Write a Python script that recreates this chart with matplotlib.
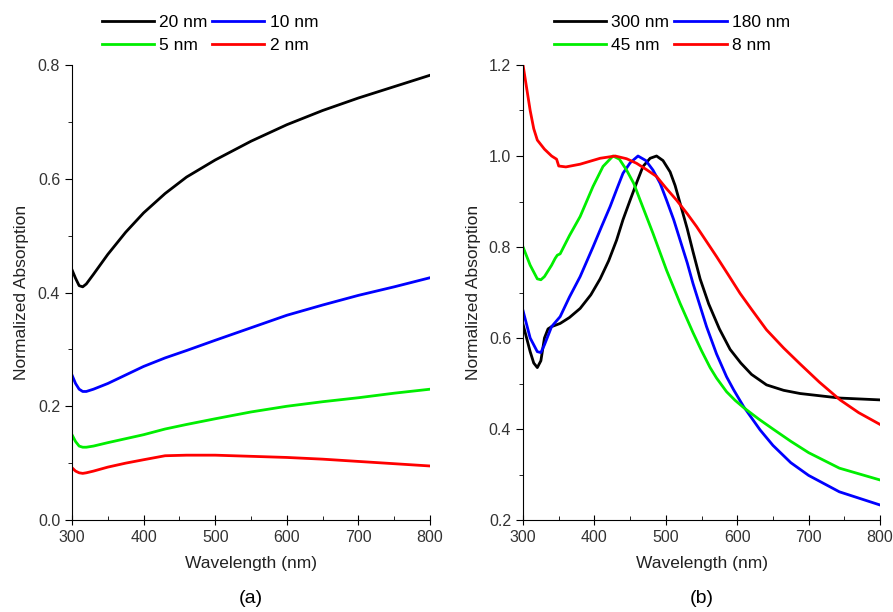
import numpy as np
import matplotlib
matplotlib.use('Agg')
import matplotlib.pyplot as plt
from matplotlib.ticker import MultipleLocator, FormatStrFormatter

plt.rcParams['font.family'] = ['Liberation Sans', 'DejaVu Sans']

# (a) thickness series
wl_a = [300, 305, 310, 315, 320, 330, 350, 375, 400, 430, 460, 500, 550, 600, 650, 700, 750, 800]
a_20 = [0.44, 0.425, 0.412, 0.41, 0.415, 0.432, 0.467, 0.506, 0.54, 0.574, 0.603, 0.633, 0.666, 0.695, 0.72, 0.742, 0.762, 0.782]
a_10 = [0.255, 0.24, 0.23, 0.226, 0.226, 0.23, 0.24, 0.255, 0.27, 0.285, 0.298, 0.316, 0.338, 0.36, 0.378, 0.395, 0.41, 0.426]
a_5 = [0.15, 0.138, 0.13, 0.128, 0.128, 0.13, 0.136, 0.143, 0.15, 0.16, 0.168, 0.178, 0.19, 0.2, 0.208, 0.215, 0.223, 0.23]
a_2 = [0.092, 0.086, 0.083, 0.082, 0.083, 0.086, 0.093, 0.1, 0.106, 0.113, 0.114, 0.114, 0.112, 0.11, 0.107, 0.103, 0.099, 0.095]

# (b) thickness series, each with its own wavelength samples
wl_300 = [300, 305, 310, 315, 320, 325, 330, 335, 340, 352, 365, 380, 395, 408, 420, 431, 440, 450, 460, 468, 478,
          487, 496, 506, 513, 520, 530, 538, 548, 560, 575, 590, 605, 620, 641, 665, 688, 744, 800]
b_300 = [0.63, 0.60, 0.57, 0.545, 0.535, 0.55, 0.60, 0.62, 0.625, 0.632, 0.645, 0.665, 0.695, 0.73, 0.77, 0.815,
         0.86, 0.903, 0.945, 0.977, 0.995, 1.0, 0.99, 0.965, 0.935, 0.896, 0.84, 0.79, 0.73, 0.675, 0.62, 0.575,
         0.545, 0.52, 0.497, 0.485, 0.478, 0.468, 0.464]
wl_180 = [300, 310, 320, 325, 330, 340, 352, 365, 380, 398, 410, 422, 432, 440, 450, 461, 472, 482, 492, 501, 511,
          520, 530, 538, 548, 557, 571, 585, 595, 609, 632, 650, 675, 700, 743, 800]
b_180 = [0.66, 0.60, 0.57, 0.568, 0.585, 0.625, 0.647, 0.69, 0.735, 0.80, 0.845, 0.889, 0.93, 0.962, 0.985, 1.0,
         0.99, 0.969, 0.94, 0.903, 0.86, 0.815, 0.765, 0.72, 0.67, 0.625, 0.565, 0.515, 0.486, 0.449, 0.398, 0.364,
         0.326, 0.298, 0.262, 0.233]
wl_45 = [300, 310, 320, 325, 330, 340, 345, 348, 352, 365, 380, 398, 412, 426, 435, 445, 455, 464, 482, 501, 520,
         538, 550, 562, 571, 585, 597, 609, 630, 650, 675, 700, 743, 800]
b_45 = [0.80, 0.76, 0.73, 0.728, 0.735, 0.76, 0.775, 0.782, 0.785, 0.825, 0.867, 0.933, 0.977, 1.0, 0.993, 0.969,
        0.94, 0.903, 0.83, 0.749, 0.676, 0.612, 0.572, 0.535, 0.512, 0.482, 0.463, 0.447, 0.422, 0.4, 0.373, 0.348,
        0.314, 0.288]
wl_8 = [300, 305, 310, 315, 320, 330, 340, 347, 350, 360, 380, 408, 429, 445, 459, 473, 487, 500, 515, 530, 543,
        557, 571, 587, 604, 620, 641, 665, 688, 715, 744, 770, 800]
b_8 = [1.2, 1.15, 1.1, 1.06, 1.035, 1.015, 1.0, 0.993, 0.978, 0.976, 0.982, 0.995, 1.0, 0.994, 0.984, 0.97, 0.955,
       0.93, 0.903, 0.873, 0.845, 0.812, 0.779, 0.74, 0.698, 0.663, 0.618, 0.578, 0.543, 0.503, 0.464, 0.436, 0.41]

labels_a = ['20 nm', '10 nm', '5 nm', '2 nm']
labels_b = ['300 nm', '180 nm', '45 nm', '8 nm']
colors = ['black', '#0000ff', '#00ee00', '#ff0000']

fig = plt.figure(figsize=(8.93, 6.12), dpi=100)
ax1 = fig.add_axes([0.0806, 0.1503, 0.401, 0.7435])
ax2 = fig.add_axes([0.5857, 0.1503, 0.3998, 0.7435])


def style(ax, ylo, yhi):
    ax.set_xlim(300, 800)
    ax.set_ylim(ylo, yhi)
    ax.spines['top'].set_visible(False)
    ax.spines['right'].set_visible(False)
    ax.xaxis.set_major_locator(MultipleLocator(100))
    ax.xaxis.set_minor_locator(MultipleLocator(50))
    ax.yaxis.set_major_locator(MultipleLocator(0.2))
    ax.yaxis.set_minor_locator(MultipleLocator(0.1))
    ax.tick_params(axis='x', which='major', direction='inout', length=7, labelsize=11.5, labelcolor='#333333')
    ax.tick_params(axis='x', which='minor', direction='in', length=3)
    ax.tick_params(axis='y', which='major', direction='out', length=5, labelsize=11.5, labelcolor='#333333')
    ax.tick_params(axis='y', which='minor', direction='out', length=3)
    ax.set_xlabel('Wavelength (nm)', fontsize=12.5, color='#222222', labelpad=8)
    ax.set_ylabel('Normalized Absorption', fontsize=12.5, color='#222222', labelpad=6)
    ax.yaxis.set_major_formatter(FormatStrFormatter('%.1f'))


def add_legend(ax, hs, labels, xc):
    ax.legend([hs[0], hs[2], hs[1], hs[3]], [labels[0], labels[2], labels[1], labels[3]],
              ncol=2, frameon=False, fontsize=12.5, handlelength=3, handletextpad=0.3, columnspacing=0.3,
              labelspacing=0.45, loc='center', bbox_to_anchor=(xc, 1.069), borderpad=0)


hs = []
for x, y, c, l in zip([wl_a] * 4, [a_20, a_10, a_5, a_2], colors, labels_a):
    h, = ax1.plot(x, y, color=c, lw=2, label=l)
    hs.append(h)
style(ax1, 0.0, 0.8)
add_legend(ax1, hs, labels_a, 0.385)
ax1.text(0.5, -0.172, '(a)', transform=ax1.transAxes, ha='center', va='center', fontsize=14)

hs = []
for x, y, c, l in zip([wl_300, wl_180, wl_45, wl_8], [b_300, b_180, b_45, b_8], colors, labels_b):
    h, = ax2.plot(x, y, color=c, lw=2, label=l)
    hs.append(h)
style(ax2, 0.2, 1.2)
add_legend(ax2, hs, labels_b, 0.417)
ax2.text(0.5, -0.172, '(b)', transform=ax2.transAxes, ha='center', va='center', fontsize=14)

fig.savefig('out.png', dpi=100)
